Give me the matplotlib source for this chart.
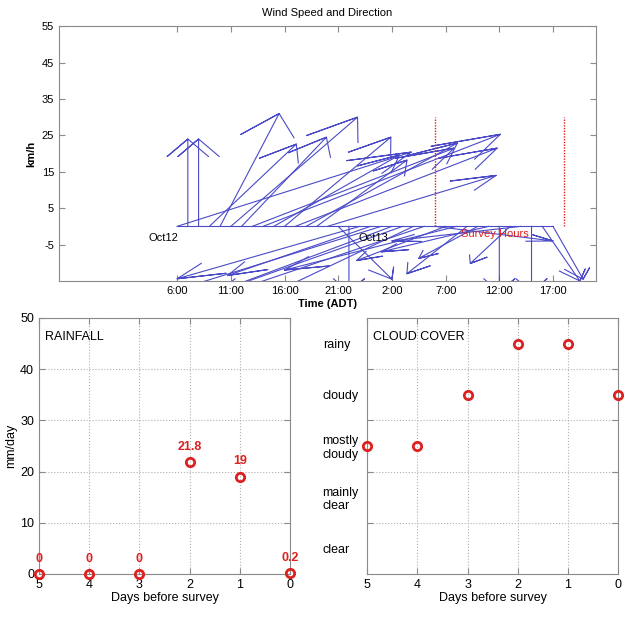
import matplotlib
matplotlib.use('Agg')
import matplotlib.pyplot as plt
import numpy as np

plt.rcParams['font.family'] = ['Liberation Sans', 'DejaVu Sans']
plt.rcParams['axes.unicode_minus'] = False

# Wind data: hourly vectors (feather plot), hour index 11 = 6:00 Oct12
wind_hours = list(range(11, 47))
wind_u = [21.8, 0, 0, 8.1, 5.5, 11.8, 7.9, 18.8, 22.1, 11.7, 9.9, 18.8, 14.1, 8.4, 15.7,
          5, 0, -17, -13.3, -24, -19, -22, -15, -20, 11, -8.3, -16, -5.6, -5.5, -10,
          0, -3.7, -12, 0, 3.5, 2.8]
wind_v = [20.4, 24, 24, 22.6, 31, 30, 24.5, 21.5, 25.3, 19.6, 24.5, 21.5, 22.9, 18.2, 14,
          -14.5, -18, -14.4, -13.5, -22, -21, -23, -21, -20, -4, -9.4, -12, -13, -8.8, -7,
          -18, -10.2, -4, -18, -15, -14.5]
time_ticks = [11, 16, 21, 26, 31, 36, 41, 46]
time_labels = ['6:00', '11:00', '16:00', '21:00', '2:00', '7:00', '12:00', '17:00']
survey_start = 35
survey_end = 47

# Rainfall
rain_days = [5, 4, 3, 2, 1, 0]
rain_mm = [0, 0, 0, 21.8, 19, 0.2]
rain_labels = ['0', '0', '0', '21.8', '19', '0.2']

# Cloud cover
cloud_days = [5, 4, 3, 2, 1, 0]
cloud_level = [2.5, 2.5, 3.5, 4.5, 4.5, 3.5]
cloud_names = ['clear', 'mainly\nclear', 'mostly\ncloudy', 'cloudy', 'rainy']

blue = '#4a4ac8'
red = '#dd2020'
gray = '#8a8a8a'

fig = plt.figure(figsize=(6.34, 6.17), dpi=100)

# ---- Wind speed and direction ----
ax = fig.add_axes([0.093, 0.5446, 0.847, 0.413])
ax.plot([wind_hours[0], wind_hours[-1]], [0, 0], color=blue, lw=0.8)
for h, u, v in zip(wind_hours, wind_u, wind_v):
    xs = h + np.array([0, u, 0.8 * u - 0.08 * v, u, 0.8 * u + 0.08 * v])
    ys = np.array([0, v, 0.8 * v + 0.08 * u, v, 0.8 * v - 0.08 * u])
    ax.plot(xs, ys, color=blue, lw=0.8)
for xs in [survey_start, survey_end]:
    ax.plot([xs, xs], [0, 30], color=red, lw=1, ls=(0, (1, 1)))
ax.text(11.1, -3.3, 'Oct12', ha='right', va='center', fontsize=8)
ax.text(27.9, -3.3, 'Oct13', ha='left', va='center', fontsize=8)
ax.text(37.4, -2.0, 'Survey Hours', ha='left', va='center', fontsize=8, color=red)
ax.set_xlim(0, 50)
ax.set_ylim(-15, 55)
ax.set_xticks(time_ticks)
ax.set_xticklabels(time_labels)
ax.set_yticks(range(-5, 56, 10))
ax.set_title('Wind Speed and Direction', fontsize=8, pad=7)
ax.set_xlabel('Time (ADT)', fontsize=8, fontweight='bold', labelpad=2)
ax.set_ylabel('km/h', fontsize=8, fontweight='bold', labelpad=4)

# ---- Rainfall ----
ax1 = fig.add_axes([0.0615, 0.0697, 0.396, 0.415])
ax1.plot(rain_days, rain_mm, 'o', mfc='none', mec=red, mew=2, ms=6, clip_on=False, zorder=5)
for d, r, lbl in zip(rain_days, rain_mm, rain_labels):
    ax1.annotate(lbl, (d, r), xytext=(0, 11), textcoords='offset points', ha='center',
                 va='center', color=red, fontsize=9, fontweight='bold')
ax1.set_xlim(5, 0)
ax1.set_ylim(0, 50)
ax1.set_xticks(rain_days)
ax1.set_yticks(range(0, 51, 10))
ax1.grid(True, ls=':', color='#b0b0b0', lw=0.8)
ax1.text(0.025, 0.95, 'RAINFALL', transform=ax1.transAxes, ha='left', va='top', fontsize=9)
ax1.set_xlabel('Days before survey', fontsize=9, labelpad=1)
ax1.set_ylabel('mm/day', fontsize=9, labelpad=2)

# ---- Cloud cover ----
ax2 = fig.add_axes([0.579, 0.0697, 0.396, 0.415])
ax2.plot(cloud_days, cloud_level, 'o', mfc='none', mec=red, mew=2, ms=6, clip_on=False, zorder=5)
ax2.set_xlim(5, 0)
ax2.set_ylim(0, 5)
ax2.set_xticks(cloud_days)
ax2.set_yticks([1, 2, 3, 4])
ax2.set_yticklabels([])
ax2.set_yticks([0.5, 1.5, 2.5, 3.5, 4.5], minor=True)
ax2.set_yticklabels(cloud_names, minor=True)
for lbl in ax2.get_yticklabels(minor=True):
    lbl.set_horizontalalignment('left')
ax2.tick_params(axis='y', which='minor', length=0, pad=32, labelsize=9)
ax2.grid(True, ls=':', color='#b0b0b0', lw=0.8)
ax2.text(0.025, 0.95, 'CLOUD COVER', transform=ax2.transAxes, ha='left', va='top', fontsize=9)
ax2.set_xlabel('Days before survey', fontsize=9, labelpad=1)

for a, fs in [(ax, 8), (ax1, 9), (ax2, 9)]:
    for s in a.spines.values():
        s.set_color(gray)
    a.tick_params(which='major', direction='in', top=True, right=True, length=4,
                  color=gray, labelsize=fs)
    a.set_axisbelow(True)

fig.savefig('out.png', dpi=100)
